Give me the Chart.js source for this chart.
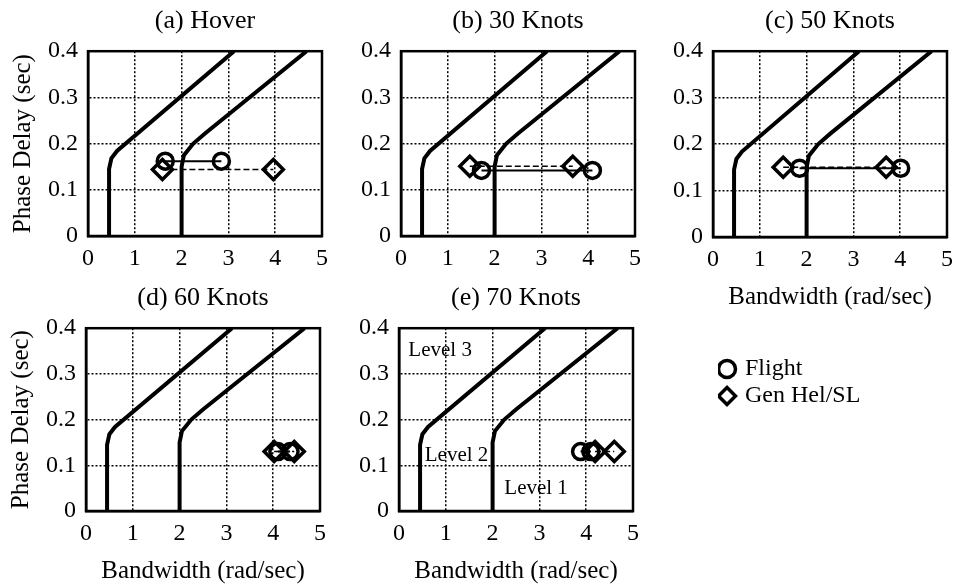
<!DOCTYPE html>
<html>
<head>
<meta charset="utf-8">
<script src="https://cdn.jsdelivr.net/npm/chart.js"></script>
<style>
  body { margin: 0; background: #fff; width: 956px; height: 584px; position: relative; overflow: hidden; }
  canvas { position: absolute; }
</style>
</head>
<body>
<canvas id="p0"></canvas>
<canvas id="p1"></canvas>
<canvas id="p2"></canvas>
<canvas id="p3"></canvas>
<canvas id="p4"></canvas>
<canvas id="leyenda" width="236" height="90" style="left:718px;top:354px"></canvas>
<script>

const titulos = ['(a) Hover', '(b) 30 Knots', '(c) 50 Knots', '(d) 60 Knots', '(e) 70 Knots']
const ticksBw = [0, 1, 2, 3, 4, 5]
const ticksTau = [0, 0.1, 0.2, 0.3, 0.4]

// limites de nivel (iguales en todos los paneles)
const limite23Bw = [0.45, 0.45, 0.5, 0.62, 3.12]
const limite23Tau = [0, 0.145, 0.168, 0.184, 0.4]
const limite12Bw = [2.0, 2.0, 2.05, 2.25, 2.5, 4.67]
const limite12Tau = [0, 0.15, 0.175, 0.2, 0.222, 0.4]

// Flight / Gen Hel/SL por panel
const vueloBw = [[1.65, 2.85], [1.72, 4.09], [1.85, 4.01], [4.1, 4.36], [3.88, 4.1]]
const vueloTau = [[0.162, 0.162], [0.142, 0.142], [0.148, 0.148], [0.13, 0.13], [0.13, 0.13]]
const genHelBw = [[1.59, 3.96], [1.47, 3.67], [1.5, 3.7], [4.02, 4.45], [4.19, 4.6]]
const genHelTau = [[0.144, 0.144], [0.151, 0.151], [0.15, 0.15], [0.13, 0.13], [0.13, 0.13]]

const nivelTextos = ['Level 3', 'Level 2', 'Level 1']
const nivelBw = [0.2, 0.55, 2.25]
const nivelTau = [0.352, 0.122, 0.05]

Chart.defaults.font.family = "'Liberation Serif', 'Times New Roman', serif"
Chart.defaults.color = '#000'

const ANCHO_Y = 88
const ALTO_TITULO = 51
const ALTO_X = 80
const ANCHO_AREA = 234

const paneles = [
    { left: 0, top: 0, alto: 185, tituloY: true, tituloX: false },
    { left: 313, top: 0, alto: 185, tituloY: false, tituloX: false },
    { left: 625, top: 0, alto: 186, tituloY: false, tituloX: true },
    { left: -2, top: 277, alto: 183, tituloY: true, tituloX: true },
    { left: 311, top: 277, alto: 183, tituloY: false, tituloX: true }
]

const puntos = (xs, ys) => xs.map((v, i) => ({ x: v, y: ys[i] }))

const marco = {
    id: 'marco',
    afterDatasetsDraw(chart) {
        const { ctx, chartArea: a } = chart
        ctx.save()
        ctx.strokeStyle = '#000'
        ctx.lineWidth = 2.5
        ctx.strokeRect(a.left, a.top, a.right - a.left, a.bottom - a.top)
        ctx.restore()
    }
}

const etiquetasNivel = {
    id: 'etiquetasNivel',
    afterDatasetsDraw(chart) {
        const { ctx, scales: { x, y } } = chart
        ctx.save()
        ctx.font = "21px 'Liberation Serif', serif"
        ctx.fillStyle = '#000'
        ctx.textBaseline = 'middle'
        nivelTextos.forEach((t, i) => {
            ctx.fillText(t, x.getPixelForValue(nivelBw[i]), y.getPixelForValue(nivelTau[i]))
        })
        ctx.restore()
    }
}

const ejeComun = {
    grid: { color: '#000', lineWidth: 1.5, drawTicks: false },
    border: { color: '#000', width: 2.5, dash: [2, 2] }
}

const crearPanel = (i) => {
    const p = paneles[i]
    var ctx = document.getElementById('p' + i)
    ctx.width = ANCHO_Y + ANCHO_AREA + 16
    ctx.height = ALTO_TITULO + p.alto + ALTO_X
    ctx.style.left = p.left + 'px'
    ctx.style.top = p.top + 'px'

    new Chart(ctx, {
        type: 'scatter',
        data: {
            datasets: [{
                data: puntos(limite23Bw, limite23Tau),
                showLine: true,
                borderColor: '#000',
                borderWidth: 4,
                pointRadius: 0
            }, {
                data: puntos(limite12Bw, limite12Tau),
                showLine: true,
                borderColor: '#000',
                borderWidth: 4,
                pointRadius: 0
            }, {
                label: 'Flight',
                data: puntos(vueloBw[i], vueloTau[i]),
                showLine: true,
                borderColor: '#000',
                borderWidth: 2,
                pointStyle: 'circle',
                pointRadius: 8,
                pointBorderWidth: 3.5,
                pointBackgroundColor: 'rgba(0,0,0,0)'
            }, {
                label: 'Gen Hel/SL',
                data: puntos(genHelBw[i], genHelTau[i]),
                showLine: true,
                borderColor: '#000',
                borderWidth: 1.5,
                borderDash: [6, 3],
                pointStyle: 'rectRot',
                pointRadius: 10,
                pointBorderWidth: 3.5,
                pointBackgroundColor: 'rgba(0,0,0,0)'
            }]
        },
        options: {
            responsive: false,
            animation: false,
            events: [],
            layout: { padding: { left: 0, right: 16, top: 0, bottom: 0 } },
            plugins: {
                legend: { display: false },
                tooltip: { enabled: false },
                title: {
                    display: true,
                    text: titulos[i],
                    fullSize: false,
                    font: { size: 26, weight: 'normal' },
                    padding: { top: 6, bottom: 14 }
                }
            },
            scales: {
                x: {
                    ...ejeComun,
                    type: 'linear',
                    min: ticksBw[0],
                    max: ticksBw[ticksBw.length - 1],
                    afterBuildTicks: s => { s.ticks = ticksBw.map(v => ({ value: v })) },
                    ticks: { font: { size: 24 }, padding: 8 },
                    title: {
                        display: p.tituloX,
                        text: 'Bandwidth (rad/sec)',
                        font: { size: 25 },
                        padding: { top: 0, bottom: 5 }
                    },
                    afterFit: s => { s.height = ALTO_X }
                },
                y: {
                    ...ejeComun,
                    type: 'linear',
                    min: ticksTau[0],
                    max: ticksTau[ticksTau.length - 1],
                    afterBuildTicks: s => { s.ticks = ticksTau.map(v => ({ value: v })) },
                    ticks: { font: { size: 24 }, padding: 10, callback: v => String(v) },
                    title: {
                        display: p.tituloY,
                        text: 'Phase Delay (sec)',
                        font: { size: 25 },
                        padding: { top: 8, bottom: 0 }
                    },
                    afterFit: s => { s.width = ANCHO_Y }
                }
            }
        },
        plugins: i === 4 ? [marco, etiquetasNivel] : [marco]
    })
}

titulos.forEach((t, i) => crearPanel(i))

new Chart(document.getElementById('leyenda'), {
    type: 'scatter',
    data: {
        datasets: [{
            label: 'Flight',
            data: [],
            borderColor: '#000',
            backgroundColor: 'rgba(0,0,0,0)',
            pointStyle: 'circle',
            pointBorderWidth: 3.5
        }, {
            label: 'Gen Hel/SL',
            data: [],
            borderColor: '#000',
            backgroundColor: 'rgba(0,0,0,0)',
            pointStyle: 'rectRot',
            pointBorderWidth: 3.5
        }]
    },
    options: {
        responsive: false,
        animation: false,
        events: [],
        scales: { x: { display: false }, y: { display: false } },
        plugins: {
            tooltip: { enabled: false },
            legend: {
                position: 'left',
                align: 'start',
                maxWidth: 230,
                labels: {
                    usePointStyle: true,
                    boxWidth: 12,
                    boxHeight: 12,
                    padding: 3,
                    color: '#000',
                    font: { size: 24 }
                }
            }
        }
    }
})
</script>
</body>
</html>
